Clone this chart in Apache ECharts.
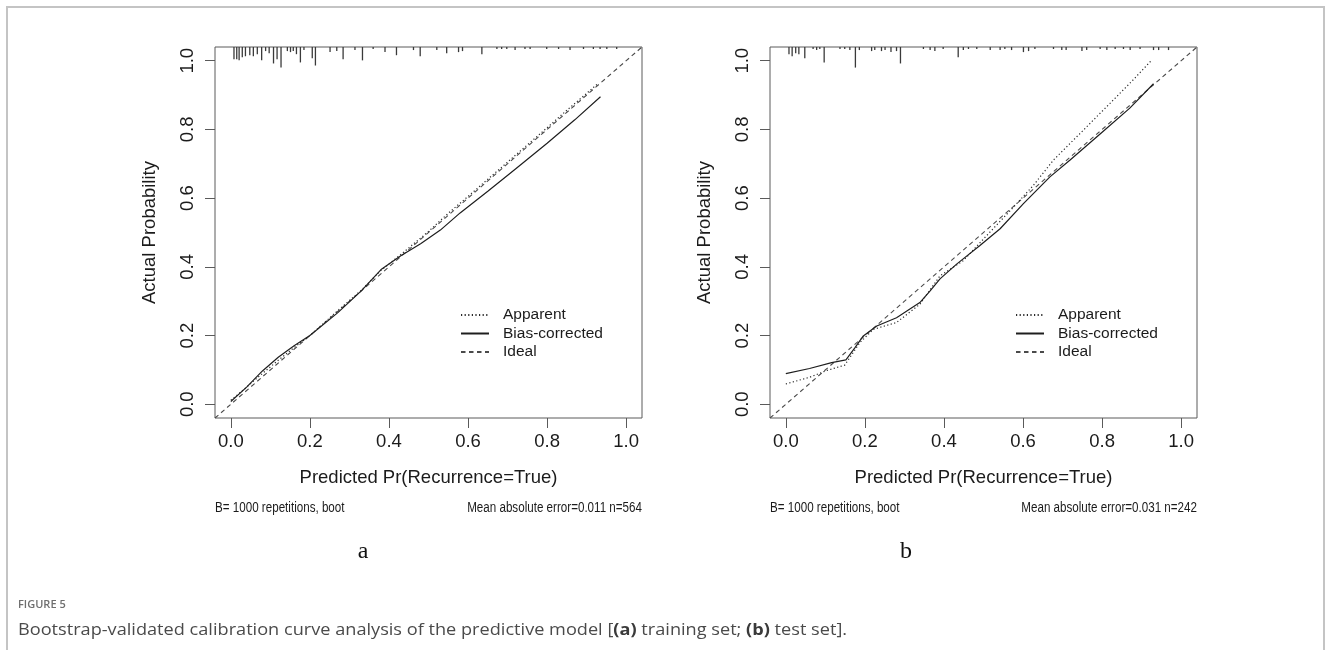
<!DOCTYPE html>
<html>
<head>
<meta charset="utf-8">
<title>Bootstrap-validated calibration curves</title>
<script src="https://cdn.jsdelivr.net/npm/echarts@6.0.0/dist/echarts.min.js"></script>
<style>
  html, body { margin: 0; padding: 0; background: #ffffff; }
  #chart { width: 1330px; height: 650px; }
</style>
</head>
<body>
<div id="chart"></div>
<script>
// ---- axis set-up shared by both panels ----
const tickValues = [0, 0.2, 0.4, 0.6, 0.8, 1.0];
const axisMin = -0.04;
const axisMax = 1.04;
const idealLine = [[-0.04, -0.04], [1.04, 1.04]];

// ---- (a) training set, n = 564 ----
const trainApparentX = [0.0, 0.03, 0.07, 0.12, 0.16, 0.2, 0.27, 0.33, 0.38, 0.43, 0.5, 0.55, 0.6, 0.65, 0.7, 0.75, 0.8, 0.85, 0.9, 0.93];
const trainApparentY = [0.012, 0.04, 0.08, 0.128, 0.165, 0.2, 0.272, 0.332, 0.39, 0.436, 0.503, 0.556, 0.605, 0.655, 0.705, 0.755, 0.805, 0.856, 0.905, 0.935];
const trainBiasX = [0.0, 0.04, 0.08, 0.12, 0.16, 0.2, 0.27, 0.33, 0.38, 0.43, 0.48, 0.53, 0.58, 0.65, 0.72, 0.8, 0.87, 0.935];
const trainBiasY = [0.008, 0.05, 0.097, 0.137, 0.17, 0.2, 0.266, 0.33, 0.392, 0.432, 0.467, 0.507, 0.557, 0.62, 0.685, 0.76, 0.828, 0.895];
// distribution of predicted probabilities (rug along the top edge)
const trainRugX = [0.008, 0.015, 0.021, 0.029, 0.037, 0.048, 0.057, 0.067, 0.078, 0.088, 0.097, 0.108, 0.117, 0.127, 0.143, 0.151, 0.158, 0.166, 0.176, 0.185, 0.206, 0.214, 0.251, 0.268, 0.284, 0.314, 0.333, 0.360, 0.390, 0.419, 0.462, 0.479, 0.521, 0.546, 0.576, 0.586, 0.635, 0.673, 0.685, 0.698, 0.719, 0.744, 0.757, 0.799, 0.829, 0.858, 0.892, 0.917, 0.934, 0.951, 0.976];
const trainRugCount = [11, 11, 12, 9, 8, 7, 8, 6, 12, 3, 5, 15, 11, 19, 3, 4, 3, 6, 14, 2, 10, 17, 4, 3, 11, 2, 12, 1, 4, 7, 2, 8, 2, 5, 4, 3, 6, 1, 1, 1, 2, 1, 1, 1, 1, 2, 1, 1, 1, 1, 1];

// ---- (b) test set, n = 242 ----
const testApparentX = [0.0, 0.061, 0.103, 0.149, 0.187, 0.221, 0.28, 0.339, 0.39, 0.449, 0.508, 0.584, 0.626, 0.677, 0.75, 0.82, 0.88, 0.924];
const testApparentY = [0.059, 0.079, 0.098, 0.114, 0.179, 0.218, 0.238, 0.291, 0.374, 0.418, 0.491, 0.584, 0.637, 0.711, 0.795, 0.876, 0.946, 1.0];
const testBiasX = [0.0, 0.06, 0.116, 0.152, 0.175, 0.196, 0.23, 0.28, 0.339, 0.365, 0.39, 0.432, 0.491, 0.542, 0.601, 0.668, 0.719, 0.8, 0.87, 0.93];
const testBiasY = [0.089, 0.104, 0.121, 0.129, 0.165, 0.199, 0.228, 0.252, 0.296, 0.33, 0.365, 0.408, 0.462, 0.511, 0.584, 0.662, 0.711, 0.792, 0.862, 0.933];
const testRugX = [0.008, 0.016, 0.025, 0.033, 0.048, 0.069, 0.078, 0.086, 0.097, 0.137, 0.149, 0.162, 0.176, 0.186, 0.217, 0.225, 0.242, 0.251, 0.266, 0.280, 0.290, 0.348, 0.365, 0.377, 0.398, 0.436, 0.449, 0.462, 0.483, 0.517, 0.542, 0.554, 0.571, 0.601, 0.614, 0.630, 0.677, 0.698, 0.709, 0.749, 0.761, 0.795, 0.812, 0.833, 0.854, 0.871, 0.896, 0.930, 0.943, 0.968];
const testRugCount = [6, 8, 5, 6, 10, 1, 2, 1, 14, 1, 1, 2, 19, 2, 3, 2, 3, 2, 4, 3, 15, 1, 2, 3, 1, 9, 2, 1, 1, 2, 2, 1, 2, 4, 3, 1, 1, 2, 2, 3, 2, 1, 2, 1, 1, 2, 1, 2, 2, 2];

// ---- text ----
const xTitle = 'Predicted Pr(Recurrence=True)';
const yTitle = 'Actual Probability';
const legendNames = ['Apparent', 'Bias-corrected', 'Ideal'];
const footLeft = 'B= 1000 repetitions, boot';
const footRightA = 'Mean absolute error=0.011 n=564';
const footRightB = 'Mean absolute error=0.031 n=242';
const panelTags = ['a', 'b'];
const figureLabel = 'FIGURE 5';
const captionText = 'Bootstrap-validated calibration curve analysis of the predictive model [{b|(a)} training set; {b|(b)} test set].';

// ---- layout ----
const panelLeft = [215, 770];
const tagX = [363, 906];
const panelTop = 47;
const panelW = 427;
const panelH = 371;
const rugUnit = 0.003; // rug length per count, in y units

const sans = '"Liberation Sans", Arial, sans-serif';
const capFont = '"Open Sans", "Noto Sans", sans-serif';
const ink = '#1b1b1b';
const frame = '#5a5a5a';

const pairs = (xs, ys) => xs.map((x, i) => [x, ys[i]]);

function axisCommon() {
  return {
    type: 'value',
    min: axisMin,
    max: axisMax,
    splitLine: { show: false },
    axisLine: { show: false, onZero: false },
    axisTick: {
      show: true, inside: false, length: 10,
      customValues: tickValues,
      lineStyle: { color: frame, width: 1 }
    },
    axisLabel: {
      customValues: tickValues,
      color: ink,
      fontFamily: sans,
      fontSize: 18.5,
      formatter: v => v.toFixed(1)
    },
    nameTextStyle: { color: ink, fontFamily: sans, fontSize: 18.5 }
  };
}

const grids = [], xAxes = [], yAxes = [], series = [], legends = [], graphics = [];

const panels = [
  { apparent: pairs(trainApparentX, trainApparentY), bias: pairs(trainBiasX, trainBiasY),
    rug: pairs(trainRugX, trainRugCount), foot: footRightA },
  { apparent: pairs(testApparentX, testApparentY), bias: pairs(testBiasX, testBiasY),
    rug: pairs(testRugX, testRugCount), foot: footRightB }
];

panels.forEach((p, i) => {
  const left = panelLeft[i];
  grids.push({
    left: left, top: panelTop, width: panelW, height: panelH,
    show: true, borderColor: frame, borderWidth: 1, backgroundColor: 'transparent',
    containLabel: false, outerBoundsMode: 'none'
  });
  const xa = axisCommon();
  xa.gridIndex = i;
  xa.axisLabel.margin = 14;
  xa.name = xTitle;
  xa.nameLocation = 'middle';
  xa.nameGap = 50;
  xAxes.push(xa);

  const ya = axisCommon();
  ya.gridIndex = i;
  ya.axisLabel.rotate = 90;
  ya.axisLabel.margin = 18;
  ya.name = yTitle;
  ya.nameLocation = 'middle';
  ya.nameGap = 56;
  yAxes.push(ya);

  series.push({
    name: 'Apparent', type: 'line', xAxisIndex: i, yAxisIndex: i,
    data: p.apparent, symbol: 'none', smooth: false, z: 3,
    itemStyle: { color: '#2a2a2a' },
    lineStyle: { color: '#2a2a2a', width: 1.2, type: [1.2, 2.4] }
  });
  series.push({
    name: 'Bias-corrected', type: 'line', xAxisIndex: i, yAxisIndex: i,
    data: p.bias, symbol: 'none', smooth: false, z: 3,
    itemStyle: { color: '#1e1e1e' },
    lineStyle: { color: '#1e1e1e', width: 1.2, type: 'solid' }
  });
  series.push({
    name: 'Ideal', type: 'line', xAxisIndex: i, yAxisIndex: i,
    data: idealLine, symbol: 'none', z: 2,
    itemStyle: { color: '#4a4a4a' },
    lineStyle: { color: '#4a4a4a', width: 1.1, type: [4.5, 3.5] }
  });
  // rug: one short vertical tick per predicted value, hanging from the top edge
  series.push({
    type: 'custom', xAxisIndex: i, yAxisIndex: i, data: p.rug, z: 4,
    renderItem: (params, api) => {
      const x = api.value(0);
      const n = api.value(1);
      const a = api.coord([x, axisMax]);
      const b = api.coord([x, axisMax - n * rugUnit]);
      return {
        type: 'line',
        shape: { x1: a[0], y1: a[1], x2: b[0], y2: b[1] + 1 },
        style: { stroke: '#3a3a3a', lineWidth: 1.3 }
      };
    },
    silent: true
  });

  legends.push({
    orient: 'vertical',
    left: left + 240, top: 302,
    data: legendNames,
    itemWidth: 28, itemHeight: 16, itemGap: 2.5,
    itemStyle: { opacity: 0 },
    textStyle: { color: ink, fontFamily: sans, fontSize: 15.5, lineHeight: 16, padding: [0, 0, 0, 9] },
    selectedMode: false
  });

  graphics.push({
    type: 'text', x: left, y: 508, scaleX: 0.83,
    style: { text: footLeft, font: '14px ' + sans, fill: ink, align: 'left', textAlign: 'left', verticalAlign: 'middle', textVerticalAlign: 'middle' }
  });
  graphics.push({
    type: 'text', x: left + panelW, y: 508, scaleX: 0.83,
    style: { text: p.foot, font: '14px ' + sans, fill: ink, align: 'right', textAlign: 'right', verticalAlign: 'middle', textVerticalAlign: 'middle' }
  });
  graphics.push({
    type: 'text', x: tagX[i], y: 552,
    style: { text: panelTags[i], font: '24px "Liberation Serif", "Times New Roman", serif', fill: '#111', align: 'center', textAlign: 'center', verticalAlign: 'middle', textVerticalAlign: 'middle' }
  });
});

// outer figure frame and caption
graphics.push({
  type: 'polyline',
  shape: { points: [[7, 652], [7, 7], [1324, 7], [1324, 652]] },
  style: { stroke: '#c4c4c4', lineWidth: 2, fill: null }
});
graphics.push({
  type: 'text', x: 18, y: 605,
  style: { text: figureLabel, font: '600 11px ' + capFont, fill: '#6e6e6e', align: 'left', textAlign: 'left', verticalAlign: 'middle', textVerticalAlign: 'middle' }
});
graphics.push({
  type: 'text', x: 18, y: 630, scaleX: 1.1,
  style: {
    text: captionText,
    font: '16.5px ' + capFont, fill: '#4a4a4a',
    align: 'left', textAlign: 'left', verticalAlign: 'middle', textVerticalAlign: 'middle',
    rich: { b: { fontWeight: 'bold', fontSize: 16.5, fontFamily: capFont, fill: '#3a3a3a' } }
  }
});

const chart = echarts.init(document.getElementById('chart'), null, { renderer: 'canvas' });
chart.setOption({
  backgroundColor: '#ffffff',
  animation: false,
  grid: grids,
  xAxis: xAxes,
  yAxis: yAxes,
  legend: legends,
  series: series,
  graphic: graphics
});
</script>
</body>
</html>
